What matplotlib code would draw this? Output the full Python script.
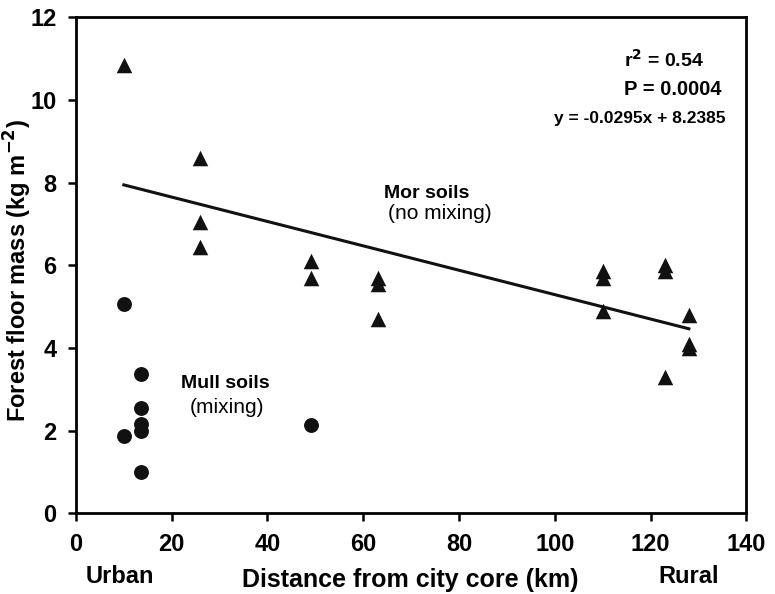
import matplotlib
matplotlib.use("Agg")
import matplotlib.pyplot as plt
import numpy as np

plt.rcParams['font.family'] = ['Liberation Sans', 'DejaVu Sans']

# Mor soils (triangles)
mor_x = [10, 26, 26, 26, 49, 49, 63, 63, 63, 110, 110, 110, 123, 123, 123, 128, 128, 128]
mor_y = [10.85, 8.6, 7.05, 6.45, 6.1, 5.7, 5.7, 5.55, 4.7, 5.85, 5.7, 4.9, 6.0, 5.85, 3.3, 4.8, 4.1, 4.0]

# Mull soils (circles)
mull_x = [10, 10, 13.5, 13.5, 13.5, 13.5, 13.5, 49]
mull_y = [5.05, 1.88, 3.38, 2.54, 2.15, 1.98, 1.0, 2.14]

slope = -0.0295
intercept = 8.2385
fit_x = [10, 128]

fig = plt.figure(figsize=(7.75, 5.94), dpi=100)
ax = fig.add_axes([0.098, 0.136, 0.865, 0.835])

ax.scatter(mor_x, mor_y, marker='^', s=125, color='#111111', zorder=3, linewidths=0)
ax.scatter(mull_x, mull_y, marker='o', s=115, color='#111111', zorder=3, linewidths=0)
fx = np.array(fit_x)
ax.plot(fx, slope * fx + intercept, color='#111111', lw=2.2)

ax.set_xlim(0, 140)
ax.set_ylim(0, 12)
ax.set_xticks(range(0, 141, 20))
ax.set_yticks(range(0, 13, 2))
for s in ax.spines.values():
    s.set_linewidth(2)
ax.tick_params(width=1.8, length=6, labelsize=17, pad=8)
for lbl in ax.get_xticklabels() + ax.get_yticklabels():
    lbl.set_fontweight('bold')

ax.set_ylabel('Forest floor mass (kg m$^{\\mathbf{-2}}$)', fontsize=17, fontweight='bold')
ax.yaxis.set_label_coords(-0.063, 0.49)

fig.text(0.155, 0.019, 'Urban', fontsize=17, fontweight='bold', ha='center', va='baseline')
fig.text(0.53, 0.012, 'Distance from city core (km)', fontsize=18, fontweight='bold', ha='center',
         va='baseline')
fig.text(0.888, 0.019, 'Rural', fontsize=17, fontweight='bold', ha='center', va='baseline')

ax.text(114.5, 10.79, 'r$^{\\mathbf{2}}$ = 0.54', fontsize=14, fontweight='bold', ha='left', va='baseline')
ax.text(114.5, 10.11, 'P = 0.0004', fontsize=14.5, fontweight='bold', ha='left', va='baseline')
ax.text(135.6, 9.44, 'y = -0.0295x + 8.2385', fontsize=12.5, fontweight='bold', ha='right', va='baseline')

ax.text(64.4, 7.62, 'Mor soils', fontsize=14, fontweight='bold', ha='left', va='baseline')
ax.text(65.2, 7.12, '(no mixing)', fontsize=15, ha='left', va='baseline')
ax.text(22, 3.04, 'Mull soils', fontsize=14, fontweight='bold', ha='left', va='baseline')
ax.text(23.8, 2.43, '(mixing)', fontsize=15, ha='left', va='baseline')

fig.savefig('out.png', dpi=100)
